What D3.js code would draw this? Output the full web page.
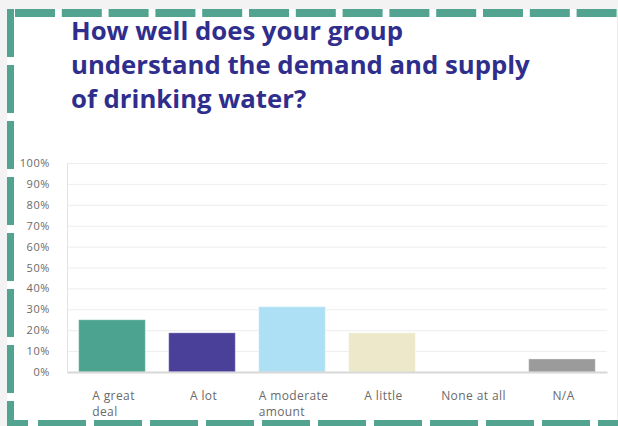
<!DOCTYPE html>
<html>
<head>
<meta charset="utf-8">
<script src="https://cdn.jsdelivr.net/npm/d3@7/dist/d3.min.js"></script>
<style>
  html, body { margin: 0; padding: 0; background: #f3f3f3; }
  svg { display: block; }
</style>
</head>
<body>
<svg id="chart" width="618" height="426"></svg>
<script>
// Survey question and answer breakdown (percent of respondents)
const titleLines = ["How well does your group", "understand the demand and supply", "of drinking water?"];
const categories = ["A great deal", "A lot", "A moderate amount", "A little", "None at all", "N/A"];
const categoryLines = [["A great", "deal"], ["A lot"], ["A moderate", "amount"], ["A little"], ["None at all"], ["N/A"]];
const values = [25, 18.75, 31.25, 18.75, 0, 6.25];
const barColors = ["#4ba390", "#4a3f99", "#aee0f5", "#ece8c9", "#a7c6a0", "#9b9b9b"];
const yTicks = [0, 10, 20, 30, 40, 50, 60, 70, 80, 90, 100];

const svg = d3.select("#chart");
const W = 618, H = 426;

// white card
svg.append("rect").attr("x", 7).attr("y", 9).attr("width", 610).attr("height", H - 9).attr("fill", "#ffffff");
svg.append("line").attr("x1", 617.5).attr("x2", 617.5).attr("y1", 9).attr("y2", H)
  .attr("stroke", "#ececec").attr("stroke-width", 1);

// dashed teal frame
const frame = svg.append("g").attr("stroke", "#52a491").attr("fill", "none");
frame.append("line").attr("x1", 15).attr("x2", W + 40).attr("y1", 13).attr("y2", 13)
  .attr("stroke-width", 8).attr("stroke-dasharray", "40 6.8");
frame.append("line").attr("x1", 10.5).attr("x2", 10.5).attr("y1", 9).attr("y2", H + 20)
  .attr("stroke-width", 7).attr("stroke-dasharray", "48 8");
frame.append("line").attr("x1", 7).attr("x2", W + 40).attr("y1", 423.5).attr("y2", 423.5)
  .attr("stroke-width", 7).attr("stroke-dasharray", "21 10 48 8 48 8 48 8 48 8 48 8 48 8 48 8 48 8 48 8 48 8");

// title
const title = svg.append("text")
  .attr("font-family", "'Open Sans', sans-serif")
  .attr("font-weight", 700)
  .attr("font-size", 24)
  .attr("fill", "#302e8c");
title.selectAll("tspan").data(titleLines).join("tspan")
  .attr("x", 71).attr("y", (d, i) => 40 + i * 34).text(d => d);
// fit the longest line to its target width
{
  const longest = title.selectAll("tspan").nodes()[1];
  const w = longest.getComputedTextLength();
  title.attr("font-size", 24 * 459 / w);
}

// scales
const plot = { left: 67, right: 607, top: 163, bottom: 372 };
const x = d3.scaleBand().domain(categories).range([plot.left, plot.right])
  .paddingInner(0.26).paddingOuter(0.13);
const y = d3.scaleLinear().domain([0, 100]).range([plot.bottom, plot.top]);

// gridlines
svg.append("g")
  .attr("transform", `translate(${plot.left},0)`)
  .call(d3.axisLeft(y).tickValues(yTicks).tickSize(-(plot.right - plot.left)).tickFormat(""))
  .call(g => g.select(".domain").remove())
  .call(g => g.selectAll(".tick line").attr("stroke", "#ededed").attr("stroke-width", 1));

// y axis
svg.append("g")
  .attr("transform", `translate(${plot.left},0)`)
  .call(d3.axisLeft(y).tickValues(yTicks).tickSize(0).tickSizeOuter(0).tickPadding(17)
    .tickFormat(d => d + "%"))
  .call(g => g.select(".domain").attr("stroke", "#e4e4e4"))
  .call(g => g.selectAll(".tick text")
    .attr("font-family", "'Open Sans', sans-serif")
    .attr("font-size", 11)
    .attr("letter-spacing", 0.6)
    .attr("fill", "#6a6a6a"));

// bars
svg.append("g").selectAll("rect").data(values).join("rect")
  .attr("x", (d, i) => x(categories[i]))
  .attr("width", x.bandwidth())
  .attr("y", d => y(d))
  .attr("height", d => y(0) - y(d))
  .attr("fill", (d, i) => barColors[i])
  .attr("stroke", "rgba(255,255,255,0.35)")
  .attr("stroke-width", 1);

// x axis
svg.append("g")
  .attr("transform", `translate(0,${plot.bottom})`)
  .call(d3.axisBottom(x).tickSize(0).tickSizeOuter(0).tickFormat(""))
  .call(g => g.select(".domain").attr("stroke", "#d8d8d8").attr("stroke-width", 2))
  .call(g => g.selectAll(".tick").each(function (d, i) {
    const t = d3.select(this).select("text")
      .attr("font-family", "'Open Sans', sans-serif")
      .attr("font-size", 12)
      .attr("letter-spacing", 0.4)
      .attr("fill", "#6a6a6a")
      .attr("dy", null)
      .attr("y", 28)
      .attr("text-anchor", "start");
    const lines = categoryLines[i];
    t.text(null);
    const first = t.append("tspan").attr("x", 0).text(lines[0]);
    const w = first.node().getComputedTextLength();
    const x0 = 1.5 - w / 2;
    first.attr("x", x0);
    lines.slice(1).forEach((ln, k) => {
      t.append("tspan").attr("x", x0).attr("y", 28 + 16 * (k + 1)).text(ln);
    });
  }));
</script>
</body>
</html>
